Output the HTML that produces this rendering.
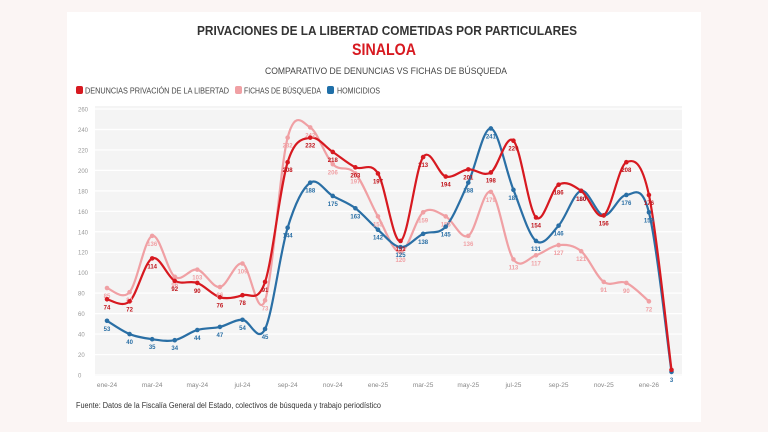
<!DOCTYPE html>
<html><head><meta charset="utf-8"><style>
body{margin:0;width:768px;height:432px;background:#fbf5f4;font-family:"Liberation Sans",sans-serif;overflow:hidden}
svg{position:absolute;left:0;top:0}
</style></head><body>
<svg id="s" width="768" height="432" xmlns="http://www.w3.org/2000/svg">
<rect x="67" y="12" width="634" height="410" fill="#fff"/>
<rect x="95" y="106" width="587" height="270" fill="#f4f4f4"/>
<text x="197" y="35" textLength="380" lengthAdjust="spacingAndGlyphs" font-size="13" font-weight="bold" fill="#333">PRIVACIONES DE LA LIBERTAD COMETIDAS POR PARTICULARES</text>
<text x="352" y="55" textLength="64" lengthAdjust="spacingAndGlyphs" font-size="17" font-weight="bold" fill="#d71920">SINALOA</text>
<text x="265" y="74" textLength="242" lengthAdjust="spacingAndGlyphs" font-size="9.5" fill="#444">COMPARATIVO DE DENUNCIAS VS FICHAS DE BÚSQUEDA</text>
<rect x="76" y="86" width="7" height="8" rx="2" fill="#d71920"/>
<text x="85" y="93.5" textLength="144" lengthAdjust="spacingAndGlyphs" font-size="8" fill="#444">DENUNCIAS PRIVACIÓN DE LA LIBERTAD</text>
<rect x="235" y="86" width="7" height="8" rx="2" fill="#f0a0a4"/>
<text x="244" y="93.5" textLength="77" lengthAdjust="spacingAndGlyphs" font-size="8" fill="#444">FICHAS DE BÚSQUEDA</text>
<rect x="327" y="86" width="7" height="8" rx="2" fill="#1f6fa8"/>
<text x="337" y="93.5" textLength="43" lengthAdjust="spacingAndGlyphs" font-size="8" fill="#444">HOMICIDIOS</text>
<text x="76" y="408" textLength="305" lengthAdjust="spacingAndGlyphs" font-size="8" fill="#333">Fuente: Datos de la Fiscalía General del Estado, colectivos de búsqueda y trabajo periodístico</text>
<g id="g"></g>
</svg>
<script>
var g=document.getElementById('g'),h='';
function X(i){return 107+i*22.58}
function Y(v){return 375-v*1.023}
for(var v=0;v<=260;v+=20){h+='<line x1="95" x2="682" y1="'+Y(v)+'" y2="'+Y(v)+'" stroke="#fff" stroke-width="1.2"/>';
h+='<text x="78" y="'+(Y(v)+2.5)+'" font-size="6" fill="#999">'+v+'</text>';}
var m=['ene-24','mar-24','may-24','jul-24','sep-24','nov-24','ene-25','mar-25','may-25','jul-25','sep-25','nov-25','ene-26'];
m.forEach(function(t,k){h+='<text x="'+X(k*2)+'" y="387" text-anchor="middle" font-size="6.5" fill="#888">'+t+'</text>'});
var red=[74,72,114,92,90,76,78,91,208,232,218,203,197,131,213,194,201,198,229,154,186,180,156,208,176,5];
var pink=[85,81,136,96,103,86,109,73,232,242,206,197,155,120,159,155,136,179,113,117,127,121,91,90,72];
var blue=[53,40,35,34,44,47,54,45,144,188,175,163,142,125,138,145,188,241,181,131,146,180,156,176,159,3];
function path(d,c){var p=d.map(function(v,i){return [X(i),Y(v)]});var s='M'+p[0][0]+','+p[0][1];
for(var i=0;i<p.length-1;i++){var a=p[i-1]||p[i],b=p[i],c2=p[i+1],e=p[i+2]||c2;
s+=' C'+(b[0]+(c2[0]-a[0])/6)+','+(b[1]+(c2[1]-a[1])/6)+' '+(c2[0]-(e[0]-b[0])/6)+','+(c2[1]-(e[1]-b[1])/6)+' '+c2[0]+','+c2[1];}
return '<path d="'+s+'" fill="none" stroke="'+c+'" stroke-width="2.2"/>';}
function pts(d,c,lc,skip){var r='';d.forEach(function(v,i){r+='<circle cx="'+X(i)+'" cy="'+Y(v)+'" r="2.3" fill="'+c+'"/>';
if(skip.indexOf(i)<0)r+='<text x="'+X(i)+'" y="'+(Y(v)+10)+'" text-anchor="middle" font-size="6" font-weight="bold" fill="'+lc+'">'+v+'</text>';});return r;}
h+=path(pink,'#f0a0a4')+path(blue,'#2a6fa5')+path(red,'#d71920');
h+=pts(pink,'#f0a0a4','#f0a0a4',[])+pts(blue,'#2a6fa5','#2a6fa5',[22])+pts(red,'#d71920','#c0141b',[25]);
g.innerHTML=h;
</script>
</body></html>
